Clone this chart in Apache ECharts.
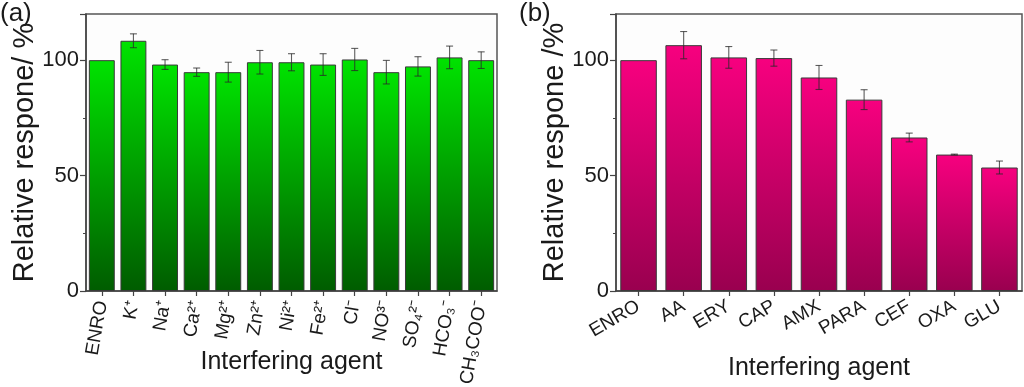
<!DOCTYPE html>
<html><head><meta charset="utf-8">
<script src="https://cdn.jsdelivr.net/npm/echarts@6/dist/echarts.min.js"></script>
<style>html,body{margin:0;padding:0;background:#fff}#c{width:1024px;height:387px}</style>
</head><body><div id="c"></div>
<script>
// Panel (a): ions
const catsA = ['ENRO','K⁺','Na⁺','Ca²⁺','Mg²⁺','Zn²⁺','Ni²⁺','Fe²⁺','Cl⁻','NO³⁻','SO₄²⁻','HCO₃⁻','CH₃COO⁻'];
const valsA = [100, 108.4, 98.1, 94.8, 94.8, 99.1, 99.1, 98.1, 100.3, 94.8, 97.3, 101.2, 100];
const errA  = [0, 3.0, 2.1, 1.8, 4.3, 5.1, 3.7, 4.7, 4.8, 5.1, 4.2, 4.9, 3.6];
// Panel (b): antibiotics
const catsB = ['ENRO','AA','ERY','CAP','AMX','PARA','CEF','OXA','GLU'];
const valsB = [100, 106.5, 101.2, 100.9, 92.5, 82.9, 66.5, 59.1, 53.5];
const errB  = [0, 5.9, 4.7, 3.5, 5.2, 4.3, 1.9, 0.2, 2.8];
const yTicks = [0, 50, 100];

const FONT = 'Liberation Sans, Arial, sans-serif';
const chart = echarts.init(document.getElementById('c'));

function grad(top, bottom){
  return new echarts.graphic.LinearGradient(0,0,0,1,[{offset:0,color:top},{offset:1,color:bottom}]);
}
function errSeries(xi, yi, vals, errs){
  return {
    type:'custom', xAxisIndex:xi, yAxisIndex:yi, z:5,
    data: vals.map((v,i)=>[i, v-errs[i], v+errs[i], errs[i]]),
    renderItem: function(params, api){
      if (!(api.value(3) > 0)) return null;
      const lo = api.coord([api.value(0), api.value(1)]);
      const hi = api.coord([api.value(0), api.value(2)]);
      const w = 3.5;
      const st = {stroke:'rgba(40,40,40,0.75)', lineWidth:1.1};
      return {type:'group', children:[
        {type:'line', shape:{x1:lo[0],y1:lo[1],x2:hi[0],y2:hi[1]}, style:st},
        {type:'line', shape:{x1:lo[0]-w,y1:lo[1],x2:lo[0]+w,y2:lo[1]}, style:st},
        {type:'line', shape:{x1:hi[0]-w,y1:hi[1],x2:hi[0]+w,y2:hi[1]}, style:st}
      ]};
    }
  };
}
function yAx(gi){
  return {
    type:'value', gridIndex:gi, min:0, max:120, interval:50,
    name: gi===0 ? 'Relative respone/ %' : 'Relative respone /%',
    nameLocation:'middle', nameGap: 47, nameMoveOverlap:false,
    nameTextStyle:{fontFamily:FONT, fontSize:29, color:'#1a1a1a'},
    axisLine:{show:true, lineStyle:{color:'#444', width:1.5}},
    axisTick:{show:true, inside:false, length:6, lineStyle:{color:'#444', width:1.2}},
    minorTick:{show:true, splitNumber:2, length:3, lineStyle:{color:'#444'}},
    axisLabel:{fontFamily:FONT, fontSize:22, color:'#1a1a1a', margin:7,
      formatter: v => yTicks.includes(v) ? String(v) : ''},
    splitLine:{show:false}
  };
}
function xAx(gi, cats, rot, size, margin, gap){
  return {
    type:'category', gridIndex:gi, data:cats,
    name:'Interfering agent', nameLocation:'middle', nameGap: gap, nameMoveOverlap:false,
    nameTextStyle:{fontFamily:FONT, fontSize:25, color:'#1a1a1a'},
    axisLine:{show:true, lineStyle:{color:'#444', width:1.5}},
    axisTick:{show:true, alignWithLabel:true, length:5, lineStyle:{color:'#444', width:1.2}},
    axisLabel:{fontFamily:FONT, fontSize:size, color:'#1a1a1a', rotate:rot, interval:0, margin:margin},
    splitLine:{show:false}
  };
}

chart.setOption({
  backgroundColor:'#ffffff',
  animation:false,
  grid:[
    {left:86, right:527, top:14, bottom:96, show:true, borderColor:'#555', borderWidth:1.5, backgroundColor:'#fdfdfd', containLabel:false, outerBoundsMode:'none'},
    {left:616, right:2, top:14, bottom:96, show:true, borderColor:'#555', borderWidth:1.5, backgroundColor:'#fdfdfd', containLabel:false, outerBoundsMode:'none'}
  ],
  xAxis:[ xAx(0, catsA, 80, 19, 10, 59), xAx(1, catsB, 30, 19, 14, 65) ],
  yAxis:[ yAx(0), yAx(1) ],
  title:[
    {text:'(a)', left:0, top:1, textStyle:{fontFamily:FONT, fontSize:26, fontWeight:'normal', color:'#1a1a1a'}, padding:0},
    {text:'(b)', left:519, top:1, textStyle:{fontFamily:FONT, fontSize:26, fontWeight:'normal', color:'#1a1a1a'}, padding:0}
  ],
  series:[
    {type:'bar', xAxisIndex:0, yAxisIndex:0, data:valsA, barWidth:'82%',
      itemStyle:{color:grad('#00e300','#005c00'), borderColor:'#3a3a3a', borderWidth:1}},
    {type:'bar', xAxisIndex:1, yAxisIndex:1, data:valsB, barWidth:'81%',
      itemStyle:{color:grad('#f7007f','#99004f'), borderColor:'#3a3a3a', borderWidth:1}},
    errSeries(0,0,valsA,errA),
    errSeries(1,1,valsB,errB)
  ]
});
</script></body></html>
